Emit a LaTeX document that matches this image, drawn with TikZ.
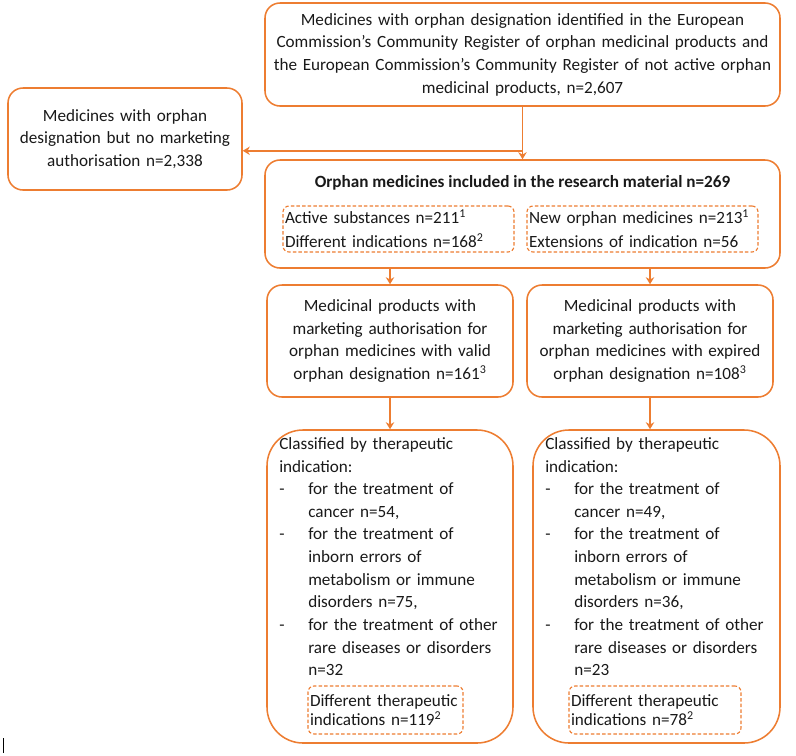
\documentclass[tikz,border=0pt]{standalone}
\usepackage{fontspec}
\setmainfont{Carlito}
\usetikzlibrary{arrows.meta}
\definecolor{orng}{HTML}{ED7D31}

\begin{document}
\begin{tikzpicture}[
    every node/.style={font=\fontsize{12.2pt}{16.1pt}\selectfont,text=black!90},
    box/.style={rectangle,draw=orng,line width=1.1pt,rounded corners=0.375cm,align=center,inner sep=0pt},
    bigbox/.style={box,rounded corners=0.9cm},
    dashbox/.style={rectangle,draw=orng,line width=0.8pt,dash pattern=on 2.5pt off 1.5pt,rounded corners=0.15cm,align=left,inner sep=0.05cm},
    listtext/.style={anchor=north west,align=left,inner sep=0pt,text width=5.6cm},
    arr/.style={draw=orng,line width=1.1pt,-{Stealth[length=5pt,width=6pt]}}
]
    \useasboundingbox (0,0) rectangle (19.9,-18.875);

    \node at (13.0625,-1.3625) [box,minimum width=12.875cm,minimum height=2.575cm,text width=12.7cm] (register)
        {Medicines with orphan designation identified in the European\\
         Commission's Community Register of orphan medicinal products and\\
         the European Commission's Community Register of not active orphan\\
         medicinal products, n=2,607};
    \node at (3.125,-3.475) [box,minimum width=5.85cm,minimum height=2.55cm,text width=5.7cm] (nomarketing)
        {Medicines with orphan\\ designation but no marketing\\ authorisation n=2,338};

    \node at (13.0625,-5.35) [box,minimum width=12.875cm,minimum height=2.7cm] (included) {};
    \node at (13.0625,-4.575) (includedtitle) {\bfseries Orphan medicines included in the research material n=269};
    \node at (9.9625,-5.725) [dashbox,minimum width=5.775cm,minimum height=1.15cm,text width=5.675cm,
        font=\fontsize{12.2pt}{17pt}\selectfont] (substances)
        {Active substances n=211\textsuperscript{1}\\ Different indications n=168\textsuperscript{2}};
    \node at (16.0625,-5.725) [dashbox,minimum width=5.775cm,minimum height=1.15cm,text width=5.675cm,
        font=\fontsize{12.2pt}{17pt}\selectfont] (neworphan)
        {New orphan medicines n=213\textsuperscript{1}\\ Extensions of indication n=56};

    \node at (9.75,-8.525) [box,minimum width=6.15cm,minimum height=2.8cm,text width=6cm] (valid)
        {Medicinal products with\\ marketing authorisation for\\ orphan medicines with valid\\ orphan designation n=161\textsuperscript{3}};
    \node at (16.25,-8.525) [box,minimum width=6.15cm,minimum height=2.8cm,text width=6cm] (expired)
        {Medicinal products with\\ marketing authorisation for\\ orphan medicines with expired\\ orphan designation n=108\textsuperscript{3}};

    \node at (9.75,-14.6625) [bigbox,minimum width=6.15cm,minimum height=7.825cm] (validclass) {};
    \node at (16.4125,-14.6625) [bigbox,minimum width=6.175cm,minimum height=7.825cm] (expiredclass) {};
    \node at (6.975,-10.93) [listtext] (validlist)
        {Classified by therapeutic\\ indication:\\
         \makebox[0.725cm][l]{-}for the treatment of\\ \hspace*{0.725cm}cancer n=54,\\
         \makebox[0.725cm][l]{-}for the treatment of\\ \hspace*{0.725cm}inborn errors of\\
         \hspace*{0.725cm}metabolism or immune\\ \hspace*{0.725cm}disorders n=75,\\
         \makebox[0.725cm][l]{-}for the treatment of other\\ \hspace*{0.725cm}rare diseases or disorders\\
         \hspace*{0.725cm}n=32};
    \node at (13.625,-10.93) [listtext] (expiredlist)
        {Classified by therapeutic\\ indication:\\
         \makebox[0.725cm][l]{-}for the treatment of\\ \hspace*{0.725cm}cancer n=49,\\
         \makebox[0.725cm][l]{-}for the treatment of\\ \hspace*{0.725cm}inborn errors of\\
         \hspace*{0.725cm}metabolism or immune\\ \hspace*{0.725cm}disorders n=36,\\
         \makebox[0.725cm][l]{-}for the treatment of other\\ \hspace*{0.725cm}rare diseases or disorders\\
         \hspace*{0.725cm}n=23};
    \node at (9.6375,-17.75) [dashbox,minimum width=3.875cm,minimum height=1.2cm,text width=3.775cm,
        font=\fontsize{12.2pt}{13.5pt}\selectfont] (validdiff)
        {Different therapeutic\\ indications n=119\textsuperscript{2}};
    \node at (16.375,-17.75) [dashbox,minimum width=4.3cm,minimum height=1.2cm,text width=4.2cm,
        font=\fontsize{12.2pt}{13.5pt}\selectfont] (expireddiff)
        {Different therapeutic\\ indications n=78\textsuperscript{2}};

    % connectors
    \coordinate (branch) at ([yshift=-1.1cm]register.south);
    \draw[arr] (register.south) -- (included.north);
    \draw[arr] (branch) -- (branch -| nomarketing.east);
    \draw[arr] (included.south -| valid.north) -- (valid.north);
    \draw[arr] (included.south -| expired.north) -- (expired.north);
    \draw[arr] (valid.south) -- (valid.south |- validclass.north);
    \draw[arr] (expired.south) -- (expired.south |- expiredclass.north);

    \draw[line width=0.6pt] (0.075,-18.45) -- (0.075,-18.82);
\end{tikzpicture}
\end{document}
